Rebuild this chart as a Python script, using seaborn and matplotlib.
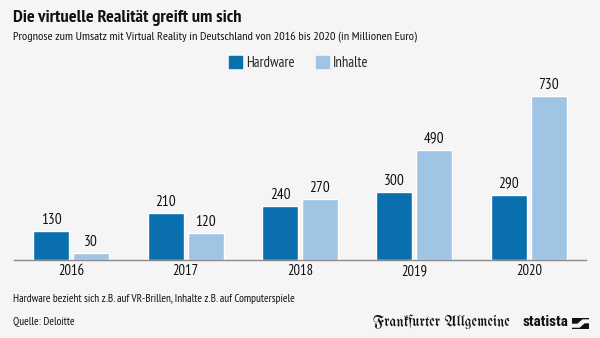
import matplotlib
matplotlib.use("Agg")
import matplotlib.pyplot as plt
import matplotlib.patches as mpatches
import seaborn as sns
import pandas as pd

years = ["2016", "2017", "2018", "2019", "2020"]
hardware = [130, 210, 240, 300, 290]
inhalte = [30, 120, 270, 490, 730]
series_names = ["Hardware", "Inhalte"]
colors = ["#0a6fae", "#9fc4e4"]

df = pd.DataFrame({
    "Jahr": years * 2,
    "Wert": hardware + inhalte,
    "Serie": [series_names[0]] * len(years) + [series_names[1]] * len(years),
})

sns.set_theme(style="white")
plt.rcParams["font.family"] = ["PT Sans Narrow", "Roboto Condensed", "DejaVu Sans"]

bg = "#f5f5f5"
ink = "#111111"
fig = plt.figure(figsize=(6.0, 3.38), dpi=100, facecolor=bg)
ax = fig.add_axes([0.0233, 0.2308, 0.9533, 0.5325], facecolor=bg)

sns.barplot(data=df, x="Jahr", y="Wert", hue="Serie", palette=colors,
            width=0.7, gap=0.1, ax=ax, legend=False, saturation=1)

for cont in ax.containers:
    ax.bar_label(cont, labels=[f"{v:.0f}" for v in cont.datavalues],
                 padding=3, fontsize=11, color=ink)

ax.set_xlim(-0.5, 4.5)
ax.set_ylim(0, 800)
ax.set_xlabel("")
ax.set_ylabel("")
ax.set_yticks([])
ax.tick_params(axis="x", length=0, labelsize=10.5, labelcolor=ink, pad=3)
for s in ["top", "right", "left"]:
    ax.spines[s].set_visible(False)
ax.spines["bottom"].set_color("#8a8a8a")
ax.spines["bottom"].set_linewidth(1.0)

fig.text(0.021, 0.948, "Die virtuelle Realität greift um sich", fontsize=13.2,
         fontweight="bold", color=ink, va="center")
fig.text(0.021, 0.893, "Prognose zum Umsatz mit Virtual Reality in Deutschland von 2016 bis 2020 (in Millionen Euro)",
         fontsize=8.8, color=ink, va="center")

handles = [mpatches.Patch(color=c, label=n) for c, n in zip(colors, series_names)]
fig.legend(handles=handles, loc="center", bbox_to_anchor=(0.498, 0.814), ncol=2,
           frameon=False, fontsize=10.5, handlelength=0.9, handleheight=0.85,
           columnspacing=1.4, handletextpad=0.3, borderpad=0.0)

fig.text(0.021, 0.115, "Hardware bezieht sich z.B. auf VR-Brillen, Inhalte z.B. auf Computerspiele",
         fontsize=8.1, color=ink, va="center")
fig.text(0.021, 0.047, "Quelle: Deloitte", fontsize=8.1, color=ink, va="center")

fig.text(0.850, 0.047, "Frankfurter Allgemeine", fontsize=10.6,
         family=["UnifrakturMaguntia", "UnifrakturCook", "Pirata One", "Grenze Gotisch", "DejaVu Serif"],
         color=ink, va="center", ha="right")
fig.text(0.947, 0.047, "statista", fontsize=11, fontweight="bold", color=ink,
         va="center", ha="right", family=["Roboto Condensed", "Roboto", "DejaVu Sans"])

# statista mark: dark block with a light diagonal band
icon = fig.add_axes([0.953, 0.0266, 0.028, 0.0325])
icon.set_xlim(0, 1)
icon.set_ylim(0, 1)
icon.axis("off")
icon.add_patch(mpatches.Rectangle((0, 0), 1, 1, color=ink))
icon.add_patch(mpatches.Polygon([(0.0, 0.18), (0.0, 0.42), (0.35, 0.42), (0.65, 0.82), (1.0, 0.82),
                                 (1.0, 0.58), (0.75, 0.58), (0.45, 0.18)],
                                closed=True, color=bg))

fig.savefig("out.png", dpi=100, facecolor=bg)
